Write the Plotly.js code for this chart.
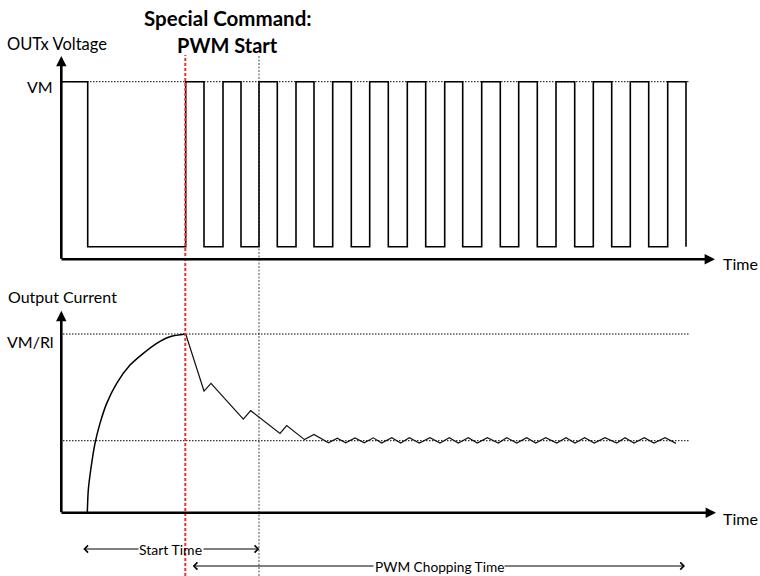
<!DOCTYPE html>
<html>
<head>
<meta charset="utf-8">
<script src="https://cdn.plot.ly/plotly-3.0.1.min.js"></script>
<style>
  html, body { margin: 0; padding: 0; background: #ffffff; }
  #chart { width: 760px; height: 576px; }
</style>
</head>
<body>
<div id="chart"></div>
<script>
// ---------------- DATA ----------------
// OUTx voltage: times of each edge (time units from the y axis) and level after the edge (VM = 1)
const vEdgeTimes = [0, 25.7, 123.7, 142, 161, 179, 197, 215.3, 234, 252, 270.7, 289.3, 307.7, 326.3,
                    345.3, 363.7, 382.7, 400.7, 419.7, 438.3, 456.7, 475.3, 494, 512.7, 531.3, 549.7,
                    568.3, 586.7, 605.7, 624];
const vLevels    = [1, 0.071, 1, 0.071, 1, 0.071, 1, 0.071, 1, 0.071, 1, 0.071, 1, 0.071,
                    1, 0.071, 1, 0.071, 1, 0.071, 1, 0.071, 1, 0.071, 1, 0.071,
                    1, 0.071, 1, 0.071];

// Output current (VM/Rl = 1): initial rise
const iRiseT = [25.3, 26.3, 28.7, 33, 38, 44.7, 54.7, 68, 81.3, 94.7, 108, 123.7];
const iRiseV = [0, 0.127, 0.239, 0.388, 0.500, 0.612, 0.724, 0.826, 0.892, 0.948, 0.985, 1.0];

// Output current during PWM chopping
const iChopT = [123.7, 142, 149, 181.3, 188.7, 218, 224.7, 242.5, 252, 266.5, 275.3, 283.7, 293, 302.3,
                311.3, 319.7, 329.7, 338.7, 347.3, 357.3, 368, 378, 387.3, 396.3, 406.3, 415.3, 425.3,
                436.3, 444.7, 454.7, 464.7, 473.7, 483.7, 494.7, 504, 513, 522.7, 532.3, 543, 554.7,
                563, 572, 582.3, 592, 603, 614];
const iChopV = [1.0, 0.681, 0.724, 0.524, 0.571, 0.444, 0.488, 0.409, 0.438, 0.391, 0.417, 0.391, 0.419, 0.391,
                0.419, 0.390, 0.420, 0.390, 0.420, 0.390, 0.420, 0.390, 0.420, 0.390, 0.420, 0.390, 0.420,
                0.390, 0.420, 0.390, 0.420, 0.390, 0.420, 0.390, 0.420, 0.390, 0.420, 0.390, 0.420, 0.390,
                0.420, 0.390, 0.420, 0.390, 0.420, 0.388];

// Reference levels and times
const vmLevel = 1;            // VM
const irLevel = 1;            // VM/Rl
const regLevel = 0.403;       // regulated current level
const pwmStartTime = 123.3;   // Special command: PWM start
const startTimeEnd = 197;     // end of start time
const refLineEnd = 628;       // end of dotted reference lines

// Labels
const titleLines = ['Special Command:', 'PWM Start'];
const voltAxisLabel = 'OUTx Voltage';
const currAxisLabel = 'Output Current';
const timeLabel = 'Time';
const vmLabel = 'VM';
const irLabel = 'VM/Rl';
const startLabel = 'Start Time';
const chopLabel = 'PWM Chopping Time';

// ---------------- LAYOUT HELPERS ----------------
const W = 760, H = 576;
const px = x => x / W;
const py = y => 1 - y / H;
const FONT = 'Lato, "Open Sans", sans-serif';

const traces = [
  { x: vEdgeTimes, y: vLevels, mode: 'lines', line: { shape: 'hv', color: '#000', width: 1.6 },
    xaxis: 'x', yaxis: 'y', hoverinfo: 'skip' },
  { x: iRiseT, y: iRiseV, mode: 'lines', line: { shape: 'spline', smoothing: 0.8, color: '#000', width: 1.5 },
    xaxis: 'x', yaxis: 'y2', hoverinfo: 'skip' },
  { x: iChopT, y: iChopV, mode: 'lines', line: { color: '#111', width: 1.2 },
    xaxis: 'x', yaxis: 'y2', hoverinfo: 'skip' }
];

const dotted = { color: '#000', width: 1, dash: '1.5px,1.5px' };
const shapes = [
  { type: 'line', xref: 'x', yref: 'y', x0: 1, x1: refLineEnd, y0: vmLevel, y1: vmLevel, line: dotted, layer: 'below' },
  { type: 'line', xref: 'x', yref: 'y2', x0: 1, x1: refLineEnd, y0: irLevel, y1: irLevel, line: dotted, layer: 'below' },
  { type: 'line', xref: 'x', yref: 'y2', x0: 1, x1: refLineEnd - 1, y0: regLevel, y1: regLevel, line: dotted, layer: 'below' },
  { type: 'line', xref: 'x', yref: 'paper', x0: startTimeEnd, x1: startTimeEnd, y0: 0, y1: py(55),
    line: { color: '#8a8a8a', width: 1.5, dash: '2px,1.5px' }, layer: 'below' },
  { type: 'line', xref: 'x', yref: 'paper', x0: pwmStartTime, x1: pwmStartTime, y0: 0, y1: py(55),
    line: { color: '#f03030', width: 2, dash: '3px,2px' }, layer: 'above' }
];

function axisArrow(yref, x0, y0, x1, y1) {
  return { xref: 'x', yref: yref, axref: 'x', ayref: yref, x: x1, y: y1, ax: x0, ay: y0,
           text: '', showarrow: true, arrowhead: 2, arrowsize: 0.8, arrowwidth: 2.6,
           arrowcolor: '#000', standoff: 0, startstandoff: 0 };
}
function dimArrow(xTip, xTail, y) {
  return { xref: 'x', yref: 'paper', axref: 'x', ayref: 'paper', x: xTip, y: y, ax: xTail, ay: y,
           text: '', showarrow: true, arrowhead: 4, arrowsize: 1.4, arrowwidth: 1,
           arrowcolor: '#000', standoff: 0, startstandoff: 0 };
}
function label(text, x, y, size, anchor, bold) {
  return { xref: 'paper', yref: 'paper', x: px(x), y: py(y), text: bold ? '<b>' + text + '</b>' : text,
           showarrow: false, xanchor: anchor, yanchor: 'middle',
           font: { family: FONT, size: size, color: '#000' } };
}

const annotations = [
  // axes with arrows
  axisArrow('y', -0.7, -0.005, -0.7, 1.145),
  axisArrow('y', -2, 0, 653, 0),
  axisArrow('y2', -0.7, -0.005, -0.7, 1.130),
  axisArrow('y2', -2, 0, 654, 0),
  // dimension arrows (tip, tail next to the label)
  dimArrow(21.3, 78, py(549)),
  dimArrow(197.3, 140, py(549)),
  dimArrow(130.7, 313, py(566)),
  dimArrow(623, 441, py(566)),
  // texts
  label(titleLines[0], 228, 18, 20.5, 'center', true),
  label(titleLines[1], 227, 45, 20, 'center', true),
  label(voltAxisLabel, 57, 44, 16.5, 'center', false),
  label(vmLabel, 55, 87, 16, 'right', false),
  label(timeLabel, 721, 264, 16, 'left', false),
  label(currAxisLabel, 62, 296, 16, 'center', false),
  label(irLabel, 56, 341, 16, 'right', false),
  label(timeLabel, 721, 518, 16, 'left', false),
  label(startLabel, 170.5, 549, 14, 'center', false),
  label(chopLabel, 439, 566, 13.7, 'center', false)
];

const layout = {
  width: W, height: H,
  margin: { l: 0, r: 0, t: 0, b: 0, pad: 0 },
  paper_bgcolor: '#ffffff', plot_bgcolor: '#ffffff',
  showlegend: false,
  xaxis: { range: [-62, 698], domain: [0, 1], visible: false, fixedrange: true },
  yaxis: { range: [-1.783, 1.460], domain: [0, 1], visible: false, fixedrange: true },
  yaxis2: { range: [-0.354, 2.869], domain: [0, 1], overlaying: 'y', visible: false, fixedrange: true },
  shapes: shapes,
  annotations: annotations
};

Plotly.newPlot('chart', traces, layout, { staticPlot: true, displayModeBar: false });
</script>
</body>
</html>
